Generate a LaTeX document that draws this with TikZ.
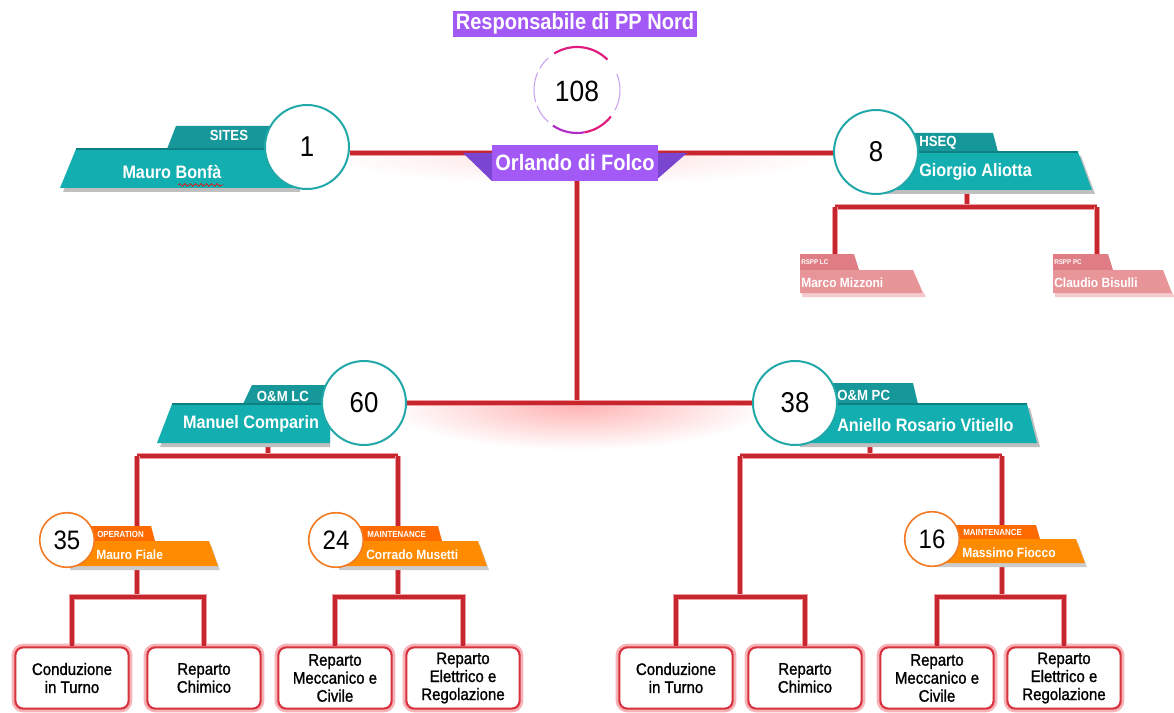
\documentclass[tikz,border=0pt]{standalone}
\usepackage{fontspec}
\setmainfont[FakeStretch=0.9]{Liberation Sans}
\newfontfamily\boxfont[FakeStretch=0.9,FakeBold=1.3]{Liberation Sans}
\usetikzlibrary{decorations.pathmorphing}
\definecolor{tealMain}{HTML}{12AEB0}
\definecolor{tealTab}{HTML}{16979A}
\definecolor{tealDark}{HTML}{0E7F82}
\definecolor{tealBorder}{HTML}{22A8A8}
\definecolor{purpBox}{HTML}{A259F5}
\definecolor{purpWing}{HTML}{7A45D0}
\definecolor{orMain}{HTML}{FF8C00}
\definecolor{orTab}{HTML}{FF6A00}
\definecolor{orBorder}{HTML}{F47A22}
\definecolor{pkMain}{HTML}{E8959A}
\definecolor{pkTab}{HTML}{E07D84}
\definecolor{lineRed}{HTML}{C8262E}
\definecolor{lineGlow}{HTML}{EE9CA1}
\definecolor{boxRed}{HTML}{D7323D}
\definecolor{boxGlow}{HTML}{F7B3B8}
\definecolor{magA}{HTML}{E0197D}
\definecolor{magB}{HTML}{B02BC8}
\definecolor{lav}{HTML}{C9A0F0}
\begin{document}
\begin{tikzpicture}[x=0.75pt,y=-0.75pt,
  conn/.style={draw=lineRed, line width=2.3pt, preaction={draw=lineGlow, line width=4.6pt}},
  bigcirc/.style={circle, draw=tealBorder, line width=1.5pt, fill=white, minimum size=63pt, inner sep=0pt, font=\fontsize{21.5}{21.5}\selectfont},
  orcirc/.style={circle, draw=orBorder, line width=1.2pt, fill=white, minimum size=41pt, inner sep=0pt, font=\fontsize{20}{20}\selectfont},
  tabtxt/.style={text=white, font=\bfseries\fontsize{11}{11}\selectfont, inner sep=0pt},
  nametxt/.style={text=white, font=\bfseries\fontsize{13.5}{13.5}\selectfont, inner sep=0pt},
  smalltab/.style={text=white, font=\bfseries\fontsize{6.6}{6.6}\selectfont, inner sep=0pt, anchor=west},
  smallname/.style={text=white, font=\bfseries\fontsize{10}{10}\selectfont, inner sep=0pt, anchor=west},
  tinytab/.style={text=white, font=\bfseries\fontsize{5.2}{5.2}\selectfont, inner sep=0pt, anchor=west},
  childbox/.style={draw=boxRed, line width=1.6pt, fill=white, rounded corners=6pt, minimum width=85pt, minimum height=46pt, align=center, inner sep=1pt, font=\boxfont\fontsize{12.5}{13.5}\selectfont, preaction={draw=boxGlow, line width=5.5pt}},
  purpbox/.style={fill=purpBox, text=white, font=\bfseries\fontsize{16.7}{16.7}\selectfont, inner sep=0pt}
]
\useasboundingbox (0,0) rectangle (1174,713);
\fill[white] (0,0) rectangle (1174,713);

% soft glows below the main lines
\begin{scope}
  \clip (380,405) rectangle (780,470);
  \shade[inner color=red!30, outer color=white] (577,405) ellipse [x radius=190, y radius=45];
\end{scope}
\begin{scope}
  \clip (340,155) rectangle (820,200);
  \shade[inner color=red!12, outer color=white] (577,155) ellipse [x radius=260, y radius=30];
\end{scope}

% coordinates
\coordinate (hTop) at (577,153);
\coordinate (jMid) at (577,403);
\coordinate (lcb) at (268,443);
\coordinate (lcL) at (137,456);
\coordinate (lcR) at (398,456);
\coordinate (j1) at (137,597);
\coordinate (j2) at (398,597);
\coordinate (rcb) at (870,443);
\coordinate (rcL) at (740,456);
\coordinate (rcR) at (1002,456);
\coordinate (j3) at (740,597);
\coordinate (j4) at (1002,597);
\coordinate (hb) at (967,190);
\coordinate (hL) at (835,207);
\coordinate (hR) at (1097,207);
\coordinate (r1t) at (835,255);
\coordinate (r2t) at (1097,255);

% child boxes
\node[childbox] (b1) at (72,678) {Conduzione\\in Turno};
\node[childbox] (b2) at (204,678) {Reparto\\Chimico};
\node[childbox] (b3) at (335,678) {Reparto\\Meccanico e\\Civile};
\node[childbox] (b4) at (463,678) {Reparto\\Elettrico e\\Regolazione};
\node[childbox] (b5) at (676,678) {Conduzione\\in Turno};
\node[childbox] (b6) at (805,678) {Reparto\\Chimico};
\node[childbox] (b7) at (937,678) {Reparto\\Meccanico e\\Civile};
\node[childbox] (b8) at (1064,678) {Reparto\\Elettrico e\\Regolazione};

% main circle nodes (placeholders for connectors; drawn later on top)
\path (307,147) node[bigcirc, draw=none, fill=none] (c1) {};
\path (876,152) node[bigcirc, draw=none, fill=none] (c8) {};
\path (364,403) node[bigcirc, draw=none, fill=none] (c60) {};
\path (795,403) node[bigcirc, draw=none, fill=none] (c38) {};

% connectors
\draw[conn] (c1.east |- hTop) -- (c8.west |- hTop);
\draw[conn] (hTop) -- (jMid);
\draw[conn] (c60) -- (c38);
\draw[conn] (lcb) -- (lcb |- lcL);
\draw[conn] (lcL) -- (lcR);
\draw[conn] (lcL) -- (j1);
\draw[conn] (lcR) -- (j2);
\draw[conn] (b1.north) |- (j1) -| (b2.north);
\draw[conn] (b3.north) |- (j2) -| (b4.north);
\draw[conn] (rcb) -- (rcb |- rcL);
\draw[conn] (rcL) -- (rcR);
\draw[conn] (rcL) -- (j3);
\draw[conn] (rcR) -- (j4);
\draw[conn] (b5.north) |- (j3) -| (b6.north);
\draw[conn] (b7.north) |- (j4) -| (b8.north);
\draw[conn] (hb) -- (hb |- hL);
\draw[conn] (hL) -- (hR);
\draw[conn] (hL) -- (r1t);
\draw[conn] (hR) -- (r2t);

% ---------- top: title + 108 + Orlando
\node[purpbox, minimum width=183pt, minimum height=20pt] (title) at (575,24) {Responsabile di PP Nord};
\node[circle, minimum size=64pt, inner sep=0pt, font=\fontsize{22}{22}\selectfont] (c108) at (577,91) {108};
\begin{scope}[shift={(577,90)}, yscale=-1]
  \draw[magA, line width=1.6pt] (45:43) arc[start angle=45, end angle=122, radius=43];
  \draw[lav, line width=0.8pt] (132:43) arc[start angle=132, end angle=150, radius=43];
  \draw[lav, line width=0.8pt] (156:43) arc[start angle=156, end angle=196, radius=43];
  \draw[lav, line width=0.8pt] (202:43) arc[start angle=202, end angle=228, radius=43];
  \draw[magB, line width=1.6pt] (236:43) arc[start angle=236, end angle=280, radius=43];
  \draw[magA, line width=1.6pt] (280:43) arc[start angle=280, end angle=322, radius=43];
  \draw[lav, line width=0.8pt] (332:43) arc[start angle=332, end angle=382, radius=43];
\end{scope}
\fill[purpWing] (463,153) -- (687,153) -- (655,181) -- (492,181) -- cycle;
\node[purpbox, minimum width=124pt, minimum height=27pt] (orl) at (575,163) {Orlando di Folco};

% ---------- SITES
\fill[black!25] (63,192) -- (79,153) -- (300,153) -- (300,192) -- cycle;
\fill[tealTab] (167,149) -- (176,126) -- (300,126) -- (300,149) -- cycle;
\fill[tealMain] (60,188) -- (76,149) -- (300,149) -- (300,188) -- cycle;
\draw[tealDark, line width=0.8pt] (76,149) -- (290,149);
\node[bigcirc] (c1n) at (c1) {1};
\node[tabtxt] (t1) at (229,135) {SITES};
\node[nametxt] (n1) at (172,172) {Mauro Bonfà};
\draw[red, line width=0.5pt, decorate, decoration={snake, segment length=4, amplitude=1}] (178,185) -- (223,185);

% ---------- HSEQ
\fill[black!25] (880,156) -- (1081,156) -- (1095,194) -- (880,194) -- cycle;
\fill[tealTab] (876,133) -- (993,133) -- (998,152) -- (876,152) -- cycle;
\fill[tealMain] (876,152) -- (1078,152) -- (1092,190) -- (876,190) -- cycle;
\draw[tealDark, line width=0.8pt] (900,152) -- (1078,152);
\node[bigcirc] (c8n) at (c8) {8};
\node[tabtxt, anchor=west] (t8) at (919,143) {HSEQ};
\node[nametxt, anchor=west] (n8) at (919,172) {Giorgio Aliotta};

% ---------- RSPP
\fill[pkMain!50] (802,293) -- (924,293) -- (926,297) -- (802,297) -- cycle;
\fill[pkTab] (800,254) -- (854,254) -- (859,270) -- (800,270) -- cycle;
\fill[pkMain] (800,270) -- (913,270) -- (923,293) -- (800,293) -- cycle;
\node[tinytab] (tr1) at (801,262) {RSPP LC};
\node[smallname] (nr1) at (801,283) {Marco Mizzoni};
\fill[pkMain!50] (1055,293) -- (1173,293) -- (1174,297) -- (1055,297) -- cycle;
\fill[pkTab] (1053,254) -- (1108,254) -- (1113,270) -- (1053,270) -- cycle;
\fill[pkMain] (1053,270) -- (1163,270) -- (1172,293) -- (1053,293) -- cycle;
\node[tinytab] (tr2) at (1054,262) {RSPP PC};
\node[smallname] (nr2) at (1054,283) {Claudio Bisulli};

% ---------- O&M LC
\fill[black!25] (160,447) -- (175,408) -- (330,408) -- (330,447) -- cycle;
\fill[tealTab] (243,404) -- (252,385) -- (330,385) -- (330,404) -- cycle;
\fill[tealMain] (157,443) -- (172,404) -- (330,404) -- (330,443) -- cycle;
\draw[tealDark, line width=0.8pt] (172,404) -- (325,404);
\node[bigcirc] (c60n) at (c60) {60};
\node[tabtxt] (t60) at (283,396) {O\&M LC};
\node[nametxt] (n60) at (251,424) {Manuel Comparin};

% ---------- O&M PC
\fill[black!25] (800,408) -- (1030,408) -- (1040,447) -- (800,447) -- cycle;
\fill[tealTab] (795,383) -- (913,383) -- (918,404) -- (795,404) -- cycle;
\fill[tealMain] (795,404) -- (1027,404) -- (1037,443) -- (795,443) -- cycle;
\draw[tealDark, line width=0.8pt] (820,404) -- (1027,404);
\node[bigcirc] (c38n) at (c38) {38};
\node[tabtxt, anchor=west] (t38) at (837,395) {O\&M PC};
\node[nametxt, anchor=west] (n38) at (837,425) {Aniello Rosario Vitiello};

% ---------- orange 35
\fill[black!20] (70,545) -- (211,545) -- (220,570) -- (70,570) -- cycle;
\fill[orTab] (67,526) -- (151,526) -- (155,541) -- (67,541) -- cycle;
\fill[orMain] (67,541) -- (209,541) -- (218,566) -- (67,566) -- cycle;
\node[orcirc] (c35) at (67,540) {35};
\node[smalltab] (t35) at (97,534) {OPERATION};
\node[smallname] (n35) at (96,555) {Mauro Fiale};

% ---------- orange 24
\fill[black!20] (339,545) -- (480,545) -- (489,570) -- (339,570) -- cycle;
\fill[orTab] (336,526) -- (438,526) -- (442,541) -- (336,541) -- cycle;
\fill[orMain] (336,541) -- (478,541) -- (487,566) -- (336,566) -- cycle;
\node[orcirc] (c24) at (336,540) {24};
\node[smalltab] (t24) at (367,534) {MAINTENANCE};
\node[smallname] (n24) at (366,555) {Corrado Musetti};

% ---------- orange 16
\fill[black!20] (935,543) -- (1078,543) -- (1087,567) -- (935,567) -- cycle;
\fill[orTab] (932,525) -- (1036,525) -- (1040,539) -- (932,539) -- cycle;
\fill[orMain] (932,539) -- (1076,539) -- (1085,563) -- (932,563) -- cycle;
\node[orcirc] (c16) at (932,539) {16};
\node[smalltab] (t16) at (963,532) {MAINTENANCE};
\node[smallname] (n16) at (962,553) {Massimo Fiocco};
\end{tikzpicture}
\end{document}
